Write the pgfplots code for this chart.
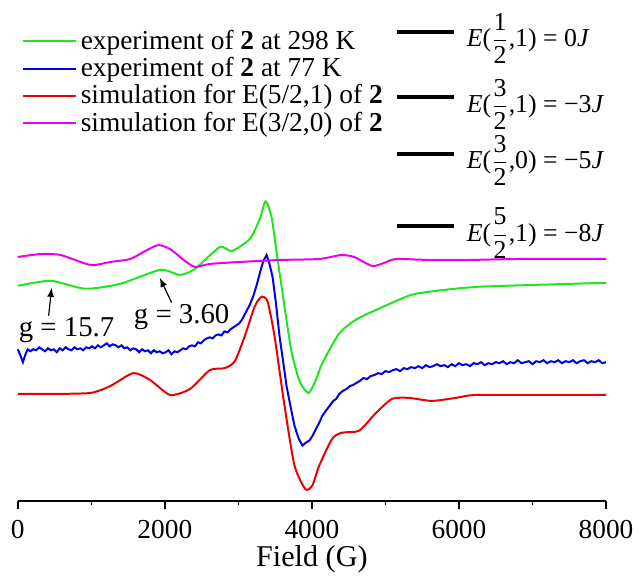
\documentclass[border=0pt]{standalone}
\usepackage{pgfplots}
\pgfplotsset{compat=1.18}
\usepackage{amsmath}
\usepackage{fontspec}
\setmainfont{Liberation Serif}
\definecolor{cgreen}{RGB}{30,230,30}
\definecolor{cblue}{RGB}{0,0,230}
\definecolor{cred}{RGB}{235,0,0}
\definecolor{cmag}{RGB}{235,0,235}
\newcommand{\elab}[3]{\fontsize{13}{15}\selectfont\textit{E}($\dfrac{\text{#1}\rule[-1pt]{0pt}{1pt}}{\rule{0pt}{10pt}\text{2}}$,#2) = #3\textit{J}}
\begin{document}
\begin{tikzpicture}
\begin{axis}[
  scale only axis, width=296.4pt, height=250pt,
  xmin=0, xmax=8000, ymin=0, ymax=500,
  axis x line=bottom, axis y line=none,
  axis line style={-, line width=0.8pt},
  xtick={0,2000,4000,6000,8000}, minor x tick num=1,
  tick align=outside, major tick length=4pt, minor tick length=2.2pt,
  every tick/.style={black, line width=0.8pt},
  /pgf/number format/assume math mode=true,
  /pgf/number format/set thousands separator={},
  xticklabel style={font=\fontsize{13.8}{16}\selectfont, yshift=-2pt},
  xlabel={Field (G)},
  xlabel style={font=\fontsize{15.2}{18}\selectfont, yshift=3.2pt},
  clip=false,
  legend cell align=left,
  legend image code/.code={\draw[#1, line width=1pt] (0pt,0pt) -- (26.5pt,0pt);},
  legend style={at={(axis cs:55,479)}, anchor=north west, draw=none, fill=none,
    inner sep=0pt, font=\fontsize{13.8}{15}\selectfont, row sep=-1.5pt},
]
\addplot[cgreen, line width=1pt, smooth, tension=0.4] coordinates {
(0,217) (447,222) (920,214) (1394,219) (1936,233) (2206,228) (2409,234) (2748,256) (2910,252) (3154,264) (3289,284) (3370,302) (3452,286) (3533,244) (3628,196) (3722,151) (3831,121) (3953,109) (4047,121) (4142,139) (4372,169) (4602,183) (4914,194) (5360,208) (5820,213) (6267,216) (7079,218) (8000,220)};
\addlegendentry{experiment of \textbf{2} at 298 K}
\addplot[cblue, line width=1pt] coordinates {
(0,153) (40,146) (70,140) (100,147) (135,153) (170,151) (210,153) (250,152) (290,155) (330,153) (370,151) (410,154) (450,152) (490,153) (530,150) (570,154) (610,152) (650,155) (690,153) (730,152) (770,155) (810,153) (850,154) (890,152) (930,155) (970,154) (1010,156) (1050,154) (1090,157) (1130,155) (1170,157) (1210,159) (1250,156) (1290,158) (1330,157) (1370,155) (1410,157) (1450,154) (1490,155) (1530,152) (1570,154) (1610,153) (1650,150) (1690,153) (1730,151) (1770,152) (1810,149) (1850,152) (1890,150) (1930,151) (1970,149) (2010,150) (2050,152) (2090,148) (2130,151) (2170,150) (2210,152) (2250,154) (2290,153) (2330,156) (2370,157) (2410,156) (2450,160) (2490,159) (2530,162) (2570,164) (2610,165) (2650,164) (2690,167) (2730,168) (2770,167) (2810,171) (2850,170) (2890,173) (2930,175) (2970,177) (3010,179) (3050,183) (3100,190) (3150,197) (3200,206) (3250,218) (3300,232) (3340,242) (3384,248) (3420,240) (3465,226) (3510,200) (3560,166) (3610,140) (3655,116) (3710,95) (3763,76) (3820,63) (3871,56) (3920,59) (3966,61) (4010,66) (4050,72) (4100,79) (4142,86) (4190,91) (4240,96) (4290,101) (4330,103) (4372,108) (4420,111) (4470,113) (4520,116) (4560,117) (4602,119) (4650,121) (4700,124) (4750,123) (4800,126) (4850,127) (4900,129) (4950,128) (5000,131) (5050,130) (5100,132) (5150,133) (5200,131) (5250,134) (5300,133) (5350,135) (5400,134) (5450,136) (5500,134) (5550,137) (5600,135) (5650,136) (5700,138) (5750,136) (5800,137) (5850,135) (5900,138) (5950,136) (6000,139) (6050,137) (6100,138) (6150,136) (6200,139) (6250,138) (6300,140) (6350,137) (6400,139) (6450,138) (6500,140) (6550,139) (6600,141) (6650,138) (6700,140) (6750,139) (6800,142) (6850,139) (6900,140) (6950,141) (7000,138) (7050,141) (7100,140) (7150,142) (7200,139) (7250,141) (7300,140) (7350,142) (7400,139) (7450,141) (7500,140) (7550,142) (7600,139) (7650,141) (7700,142) (7750,139) (7800,141) (7850,140) (7900,142) (7950,139) (8000,140)};
\addlegendentry{experiment of \textbf{2} at 77 K}
\addplot[cred, line width=1pt, smooth, tension=0.4] coordinates {
(0,108) (447,108) (988,109) (1259,116) (1570,129) (1800,122) (2071,107) (2342,113) (2612,132) (2815,134) (2951,141) (3086,166) (3222,196) (3316,206) (3398,201) (3492,166) (3628,96) (3763,36) (3912,12) (4007,16) (4101,36) (4277,63) (4413,69) (4643,71) (4873,89) (5090,103) (5320,104) (5631,101) (5956,104) (6226,107) (7000,107) (8000,107)};
\addlegendentry{simulation for E(5/2,1) of \textbf{2}}
\addplot[cmag, line width=1pt, smooth, tension=0.4] coordinates {
(0,246) (311,249) (582,248) (988,238) (1259,241) (1530,244) (1733,252) (1909,258) (2071,254) (2274,242) (2409,236) (2612,239) (3019,241) (3560,243) (4101,244) (4399,248) (4575,246) (4819,237) (4981,240) (5144,244) (5590,243) (6132,243) (6809,244) (8000,244)};
\addlegendentry{simulation for E(3/2,0) of \textbf{2}}
% energy levels
\addplot[black, line width=2pt, forget plot] coordinates {(5157,473) (5939,473)};
\addplot[black, line width=2pt, forget plot] coordinates {(5157,407) (5939,407)};
\addplot[black, line width=2pt, forget plot] coordinates {(5157,350) (5939,350)};
\addplot[black, line width=2pt, forget plot] coordinates {(5157,277) (5939,277)};
\node[anchor=west, inner sep=0pt] at (axis cs:6101,466) {\elab{1}{1}{0}};
\node[anchor=west, inner sep=0pt] at (axis cs:6101,400) {\elab{3}{1}{−3}};
\node[anchor=west, inner sep=0pt] at (axis cs:6101,343) {\elab{3}{0}{−5}};
\node[anchor=west, inner sep=0pt] at (axis cs:6101,270) {\elab{5}{1}{−8}};
% g annotations
\node[inner sep=0pt, font=\fontsize{14.5}{16}\selectfont] at (axis cs:663,172) {g = 15.7};
\node[inner sep=0pt, font=\fontsize{14.5}{16}\selectfont] at (axis cs:2228,185) {g = 3.60};
\draw[-latex, line width=0.6pt] (axis cs:420,187) -- (axis cs:460,215);
\draw[-latex, line width=0.6pt] (axis cs:2093,200) -- (axis cs:1931,225);
% bounding box
\path (axis cs:-242,505) -- (axis cs:8395,-69);
\end{axis}
\end{tikzpicture}
\end{document}
